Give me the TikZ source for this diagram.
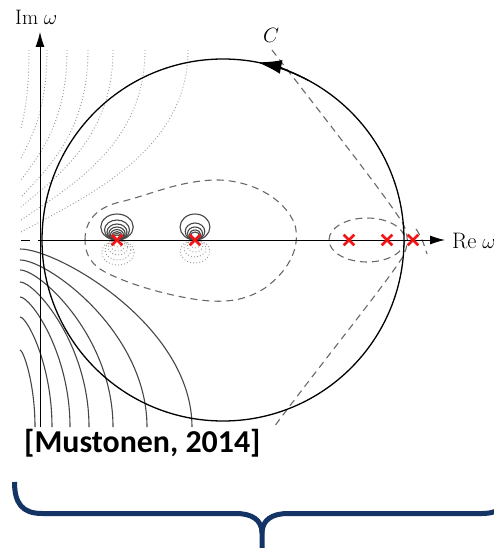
\documentclass[tikz,border=0pt]{standalone}
\usepackage{fontspec}
\newfontfamily\calib{Carlito}
\usetikzlibrary{arrows.meta,shapes.misc}
\definecolor{contgray}{RGB}{70,70,70}
\definecolor{dashgray}{RGB}{105,105,105}
\definecolor{dotgray}{RGB}{150,150,150}
\definecolor{bracecol}{RGB}{20,52,102}
\definecolor{polered}{RGB}{240,20,20}
\tikzset{
  contour/.style={draw=contgray,line width=1.1bp},
  dashcont/.style={draw=dashgray,line width=1.1bp,dash pattern=on 7bp off 5bp},
  dotcont/.style={draw=dotgray,line width=0.9bp,dash pattern=on 0.9bp off 2.2bp},
  axisline/.style={draw=black,line width=0.9bp,-{Latex[length=15bp,width=9bp]}},
  xmark/.style={cross out,draw=polered,line width=2.6bp,minimum size=8bp,inner sep=0pt},
  bracestyle/.style={draw=bracecol,line width=5bp},
  lab/.style={font=\fontsize{21}{24}\selectfont,inner sep=0pt}
}
\begin{document}
\begin{tikzpicture}[x=1bp,y=-1bp]
\useasboundingbox (0,0) rectangle (494,548);
% ---- top-left dotted level lines
\foreach \xa/\yb in {29/128,47/158,67/180,88/197,113/207,145/220,188/232}{
  \draw[dotcont] (\xa,50) .. controls (\xa,{50+0.55*(\yb-50)}) and ({22+0.4*(\xa-22)},{\yb-0.2*(\yb-50)}) .. (21,\yb);
}
% ---- bottom-left solid level lines
\foreach \ys/\xe in {249/192,260/147,270/113,282/89,297/70,317/52,350/35}{
  \draw[contour] (20,\ys) .. controls ({20+0.22*(\xe-20)},\ys) and (\xe,{427-0.57*(427-\ys)}) .. (\xe,427);
}
% ---- loops around the poles
\foreach \r in {13,10,8,6.5,5.2,4.2,3.3,2.5}{
  \draw[contour] (117,{240-\r}) ellipse [x radius={1.25*\r},y radius=\r];
}
\foreach \r in {13,8.5,6.5,5,4}{
  \draw[contour] (195,{240-\r}) ellipse [x radius={1.15*\r},y radius=\r];
}
\foreach \r in {12.5,10,7.5,5.5,3.5}{
  \draw[dotcont] (118,{240+\r}) ellipse [x radius={1.3*\r},y radius=\r];
}
\foreach \r in {11.5,8.5,6,4}{
  \draw[dotcont] (195,{240+\r}) ellipse [x radius={1.3*\r},y radius=\r];
}
% ---- dashed level lines
\draw[dashcont] (85,240) .. controls (85,222) and (95,208) .. (120,202)
  .. controls (150,195) and (175,182) .. (213,180)
  .. controls (250,179) and (285,198) .. (295,225)
  .. controls (300,245) and (292,268) .. (265,288)
  .. controls (245,301) and (225,303) .. (200,300)
  .. controls (170,296) and (130,285) .. (105,272)
  .. controls (92,265) and (85,255) .. (85,240);
\draw[dashcont] (367,240) ellipse [x radius=38,y radius=22];
\draw[dashcont] (272,50) .. controls (320,112) and (385,195) .. (402,222)
  .. controls (409,234) and (409,246) .. (402,258)
  .. controls (385,285) and (320,365) .. (274,427);
\draw[dashcont] (416,229) .. controls (421,236) and (424,244) .. (427,254);
% ---- axes
\coordinate (ylow) at (40,427);
\coordinate (ytip) at (40,32);
\coordinate (xleft) at (38,240);
\coordinate (xtip) at (445,240);
\coordinate (dashA) at (21,240);
\coordinate (dashB) at (30,240);
\draw[axisline] (ylow) -- (ytip);
\draw[axisline] (xleft) -- (xtip);
\draw[black,line width=0.9bp] (dashA) -- (dashB);
\node[lab,anchor=base west] (imlab) at (15,25) {$\mathrm{Im}\;\omega$};
\node[lab,font=\fontsize{22.5}{25}\selectfont,anchor=base west] (relab) at (452,248) {$\mathrm{Re}\;\omega$};
% ---- contour C
\coordinate (cc) at (223,240);
\draw[black,line width=1.3bp] (cc) circle [radius=181];
\draw[black,line width=1.3bp,-{Latex[length=24bp,width=14bp]}] (cc) ++(-62:181) arc[start angle=-62,end angle=-79,radius=181];
\node[lab,anchor=base] (clab) at (271,43) {$C$};
% ---- poles
\node[xmark] (p1) at (117,240) {};
\node[xmark] (p2) at (195,240) {};
\node[xmark] (p3) at (349,240) {};
\node[xmark] (p4) at (387,240) {};
\node[xmark] (p5) at (413,240) {};
% ---- citation and brace
\node[font=\calib\bfseries\fontsize{32}{34}\selectfont,anchor=base west,inner sep=0pt] (cite) at (24,452) {[Mustonen, 2014]};
\coordinate (bl) at (14.5,482);
\coordinate (br) at (510,482);
\coordinate (bm) at (262,548);
\draw[bracestyle] (bl) .. controls (14.5,503) and (22,513.5) .. (42,513.5) -- (236,513.5)
  .. controls (252,513.5) and (262,520) .. (262,533) -- (bm);
\draw[bracestyle] (br) .. controls (510,503) and (502,513.5) .. (482,513.5) -- (288,513.5)
  .. controls (272,513.5) and (262,520) .. (262,533);
\end{tikzpicture}
\end{document}
